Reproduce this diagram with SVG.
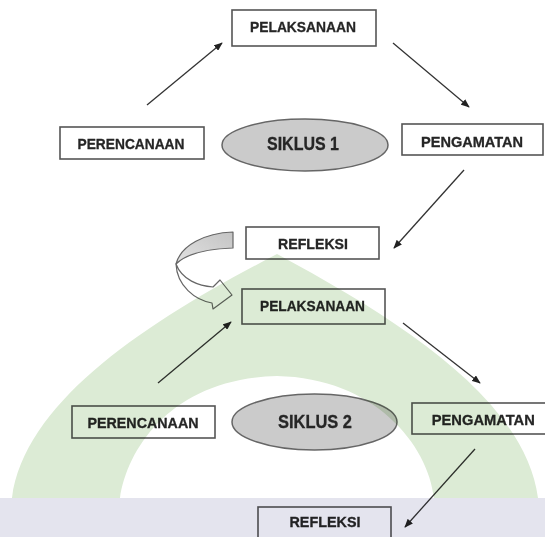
<svg xmlns="http://www.w3.org/2000/svg" width="545" height="537" viewBox="0 0 545 537">
<style>
.box{fill:#ffffff;stroke:#555;stroke-width:1.6}
.ell{fill:#cbcbcb;stroke:#666;stroke-width:1.5}
.lbl{font-family:"Liberation Sans",Arial,sans-serif;font-weight:bold;font-size:15px;fill:#262626;stroke:#262626;stroke-width:0.3;text-anchor:middle}
.big{font-size:17.5px}
.con{stroke:#333;stroke-width:1.3;fill:none;marker-end:url(#ah)}
.wm{mix-blend-mode:multiply}
</style>
<defs>
<marker id="ah" viewBox="0 0 10 8" refX="9" refY="4" markerWidth="9" markerHeight="7" markerUnits="userSpaceOnUse" orient="auto">
<path d="M0,0 L10,4 L0,8 Z" fill="#222"/>
</marker>
<linearGradient id="gr" x1="1" y1="0" x2="0" y2="1">
<stop offset="0" stop-color="#c4c4c4"/>
<stop offset="1" stop-color="#e2e2e2"/>
</linearGradient>
</defs>
<rect width="545" height="537" fill="#ffffff"/>

<g id="connectors">
<line class="con" x1="147" y1="105" x2="222" y2="43"/>
<line class="con" x1="393" y1="43" x2="469" y2="107"/>
<line class="con" x1="464" y1="170" x2="394" y2="248"/>
<line class="con" x1="158" y1="383" x2="231" y2="322"/>
<line class="con" x1="403" y1="323" x2="480" y2="383"/>
<line class="con" x1="475" y1="449" x2="405" y2="527"/>
<g id="loop-arrow" stroke="#666" stroke-width="1.2" stroke-linejoin="round">
<path d="M233,232 C205,233 181,245 176,264 C186,254 206,249 233,248 Z" fill="url(#gr)"/>
<path d="M176,264 C177,286 195,300 212,303 L213,309 L232,295 L220,280 L213,287 C199,286 182,280 176,264 Z" fill="#ffffff"/>
</g>
</g>

<g id="pelaksanaan1"><rect class="box" x="232" y="10" width="144" height="36"/><text class="lbl" x="303" y="32" textLength="106" lengthAdjust="spacingAndGlyphs">PELAKSANAAN</text></g>
<g id="perencanaan1"><rect class="box" x="60" y="127" width="144" height="32"/><text class="lbl" x="131" y="149.3" textLength="107" lengthAdjust="spacingAndGlyphs">PERENCANAAN</text></g>
<g id="siklus1"><ellipse class="ell" cx="305" cy="145" rx="83" ry="26"/><text class="lbl big" x="303" y="149.5" textLength="72" lengthAdjust="spacingAndGlyphs">SIKLUS 1</text></g>
<g id="pengamatan1"><rect class="box" x="402" y="124" width="141" height="31"/><text class="lbl" x="472" y="146.7" textLength="102" lengthAdjust="spacingAndGlyphs">PENGAMATAN</text></g>
<g id="refleksi1"><rect class="box" x="246" y="227" width="133" height="32"/><text class="lbl" x="313" y="248.5" textLength="70" lengthAdjust="spacingAndGlyphs">REFLEKSI</text></g>

<g id="pelaksanaan2"><rect class="box" x="242" y="289" width="143" height="35"/><text class="lbl" x="312.5" y="310.5" textLength="105" lengthAdjust="spacingAndGlyphs">PELAKSANAAN</text></g>
<g id="perencanaan2"><rect class="box" x="72" y="406" width="143" height="32"/><text class="lbl" x="143" y="428.3" textLength="111" lengthAdjust="spacingAndGlyphs">PERENCANAAN</text></g>
<g id="siklus2"><ellipse class="ell" cx="314.5" cy="422" rx="82.5" ry="28"/><text class="lbl big" x="315" y="427.5" textLength="74" lengthAdjust="spacingAndGlyphs">SIKLUS 2</text></g>
<g id="pengamatan2"><rect class="box" x="412" y="403" width="142" height="31"/><text class="lbl" x="483.3" y="424.5" textLength="103" lengthAdjust="spacingAndGlyphs">PENGAMATAN</text></g>
<g id="refleksi2"><rect class="box" x="258" y="507" width="133" height="36"/><text class="lbl" x="325" y="526.7" textLength="71" lengthAdjust="spacingAndGlyphs">REFLEKSI</text></g>

<g id="watermark" class="wm">
<path fill="#dcebd5" fill-rule="evenodd" d="M12,498 C25,400 150,320 277,254 C400,320 525,400 538,498 Z M120,498 C128,445 175,378 277,376 C375,378 428,445 434,498 Z"/>
<rect x="0" y="498" width="545" height="39" fill="#e4e4ee"/>
</g>
</svg>
